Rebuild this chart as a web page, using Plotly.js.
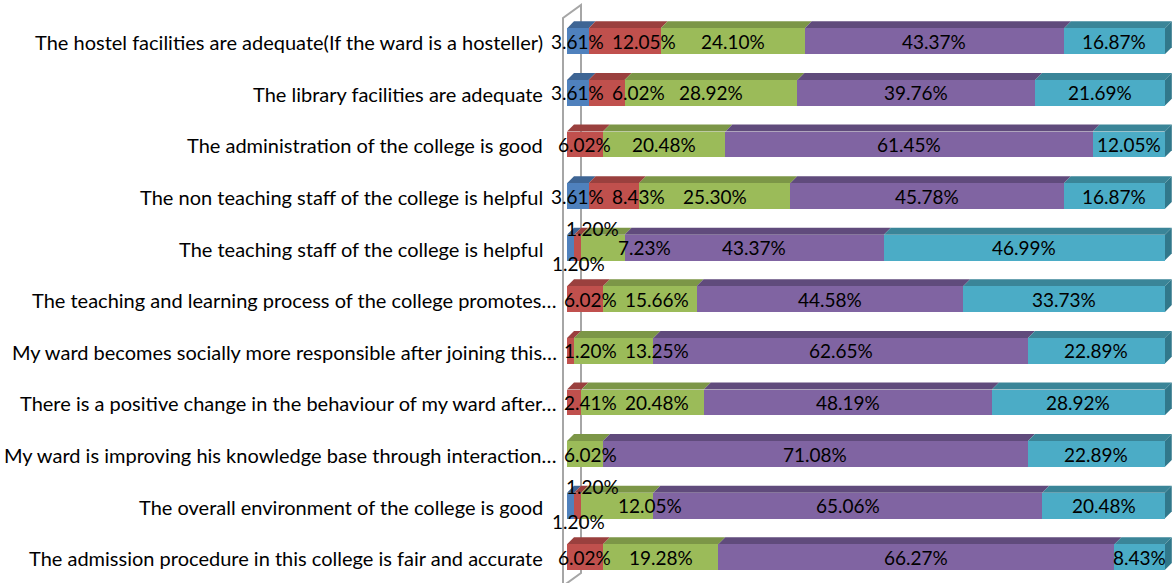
<!DOCTYPE html>
<html>
<head>
<meta charset="utf-8">
<script src="https://cdn.plot.ly/plotly-3.0.1.min.js"></script>
<style>html,body{margin:0;padding:0;background:#fff;}#chart{width:1172px;height:583px;}</style>
</head>
<body>
<div id="chart"></div>
<script>
const categories = [
  "The hostel facilities are adequate(If the ward is a hosteller)",
  "The library facilities are adequate",
  "The administration of the college is good",
  "The non teaching staff of the college is helpful",
  "The teaching staff of the college is helpful",
  "The teaching and learning process of the college promotes…",
  "My ward becomes socially more responsible after joining this…",
  "There is a positive change in the behaviour of my ward after…",
  "My ward is improving his knowledge base through interaction…",
  "The overall environment of the college is good",
  "The admission procedure in this college is fair and accurate"
];
const seriesNames = ["Strongly Disagree", "Disagree", "Neutral", "Agree", "Strongly Agree"];
const stronglyDisagree = [3.61, 3.61, 0, 3.61, 1.20, 0, 0, 0, 0, 1.20, 0];
const disagree         = [12.05, 6.02, 6.02, 8.43, 1.20, 6.02, 1.20, 2.41, 0, 1.20, 6.02];
const neutral          = [24.10, 28.92, 20.48, 25.30, 7.23, 15.66, 13.25, 20.48, 6.02, 12.05, 19.28];
const agree            = [43.37, 39.76, 61.45, 45.78, 43.37, 44.58, 62.65, 48.19, 71.08, 65.06, 66.27];
const stronglyAgree    = [16.87, 21.69, 12.05, 16.87, 46.99, 33.73, 22.89, 28.92, 22.89, 20.48, 8.43];

const series = [stronglyDisagree, disagree, neutral, agree, stronglyAgree];
const frontColors = ["#4F81BD", "#C0504D", "#9BBB59", "#8064A2", "#4BACC6"];
const topColors   = ["#3E6594", "#9A403E", "#7C9647", "#604B7C", "#3A8598"];
const sideColor = "#31788B";

const FONT = 'Lato, "Liberation Sans", sans-serif';
const LABEL_SIZE = 19;
const TICK_SIZE = 20;

const yIdx = categories.map((c, i) => i);
const barW = 0.5;
const depthX = 1.17;   // depth offset in x units
const depthY = 0.136;  // depth offset in category units

// layout geometry
const ML = 561, W = 1172, H = 583;
const XR = [-1, 101.2];
const ppu = (W - ML) / (XR[1] - XR[0]);
const toPx = x => ML + (x - XR[0]) * ppu;
const px = p => (p - ML) / (W - ML);
const py = p => 1 - p / H;

const ctx = document.createElement('canvas').getContext('2d');
ctx.font = LABEL_SIZE + 'px Lato';
const textW = t => ctx.measureText(t).width;

const traces = series.map((vals, s) => ({
  type: 'bar',
  orientation: 'h',
  name: seriesNames[s],
  x: vals,
  y: yIdx,
  width: barW,
  marker: {color: frontColors[s], line: {width: 0}},
  hoverinfo: 'x+name',
  showlegend: false
}));

const shapes = [];
const annotations = [];

// category labels (truncated ones reach further right, as in the original)
const catRight = categories.map(c => c.endsWith('…') ? 557 : 543);
categories.forEach((c, j) => {
  annotations.push({
    x: px(catRight[j] + 2), y: j, xref: 'paper', yref: 'y',
    xanchor: 'right', yanchor: 'middle', yshift: -1,
    text: c, showarrow: false,
    font: {family: FONT, size: TICK_SIZE, color: '#000'}
  });
});

const cum = categories.map(() => 0);
const rowLabels = categories.map(() => []);
series.forEach((vals, s) => {
  vals.forEach((v, j) => {
    const x0 = cum[j], x1 = cum[j] + v;
    if (v > 0) {
      const yt = j - barW / 2;
      shapes.push({
        type: 'path', xref: 'x', yref: 'y', layer: 'below',
        path: `M${x0},${yt} L${x1},${yt} L${x1 + depthX},${yt - depthY} L${x0 + depthX},${yt - depthY} Z`,
        fillcolor: topColors[s], line: {width: 0}
      });
      rowLabels[j].push({s: s, v: v, xc: (x0 + x1) / 2, text: v.toFixed(2) + '%'});
    }
    cum[j] = x1;
  });
});

// label placement: centred, pushed right to avoid overlapping the previous text
const GAP = 8;
rowLabels.forEach((labels, j) => {
  let prevRight = catRight[j] - 1;
  const pair = series[0][j] > 0 && series[0][j] < 2 && series[1][j] > 0 && series[1][j] < 2;
  labels.forEach(L => {
    const w = textW(L.text);
    const nat = toPx(L.xc);
    let c = nat, ys = 0;
    if (pair && L.s === 0) { c = nat + 22; ys = 19; }
    else if (pair && L.s === 1) { c = nat + 1; ys = -16; }
    else {
      const minLeft = prevRight + GAP;
      if (c - w / 2 < minLeft) c = minLeft + w / 2;
    }
    if (pair && L.s <= 1) {
      prevRight = Math.max(prevRight, c + w / 2 - 9);
    } else {
      prevRight = c + w / 2;
    }
    annotations.push({
      x: L.xc, y: j, xref: 'x', yref: 'y',
      text: L.text, showarrow: false,
      xshift: c - nat, yshift: ys,
      font: {family: FONT, size: LABEL_SIZE, color: '#000'}
    });
  });
});

// right side face of each bar
cum.forEach((total, j) => {
  const yt = j - barW / 2, yb = j + barW / 2;
  shapes.push({
    type: 'path', xref: 'x', yref: 'y', layer: 'below',
    path: `M${total},${yt} L${total + depthX},${yt - depthY} L${total + depthX},${yb - depthY} L${total},${yb} Z`,
    fillcolor: sideColor, line: {width: 0}
  });
});
// back wall (decoration)
shapes.push({
  type: 'path', xref: 'paper', yref: 'paper', layer: 'below',
  path: `M${px(563)},${py(590)} L${px(563)},${py(18)} L${px(581)},${py(5)} L${px(581)},${py(573)} L${px(563)},${py(586)}`,
  fillcolor: 'rgba(0,0,0,0)', line: {color: '#A6A6A6', width: 2}
});

const layout = {
  width: W, height: H,
  margin: {l: ML, r: 0, t: 0, b: 0, pad: 0},
  paper_bgcolor: '#fff', plot_bgcolor: 'rgba(0,0,0,0)',
  barmode: 'stack',
  showlegend: false,
  xaxis: {range: XR, showgrid: false, zeroline: false, showline: false, showticklabels: false, ticks: ''},
  yaxis: {
    range: [10.5, -0.8], tickmode: 'array', tickvals: yIdx, ticktext: categories,
    showgrid: false, zeroline: false, showline: false, ticks: '', showticklabels: false
  },
  shapes: shapes,
  annotations: annotations
};

Plotly.newPlot('chart', traces, layout, {displayModeBar: false, staticPlot: true});
</script>
</body>
</html>
